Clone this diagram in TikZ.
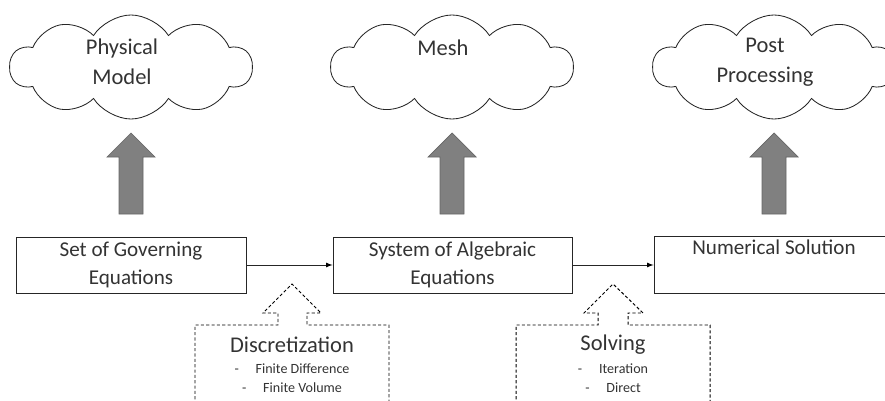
\documentclass[tikz,border=0pt]{standalone}
\usepackage{fontspec}
\setmainfont{Carlito}
\usetikzlibrary{arrows,positioning,shapes}

\begin{document}
\begin{tikzpicture}[x=0.025cm,y=-0.025cm,
            eqbox/.style={draw=black!85,line width=.6pt,minimum height=1.4cm,inner sep=2pt,align=center,font=\fontsize{15}{20}\selectfont,text=black!80},
            bubble/.style={cloud,cloud puffs=10,cloud puff arc=115,cloud ignores aspect,draw=black!85,line width=.6pt,minimum width=6.05cm,minimum height=2.6cm},
            bubblelab/.style={align=center,font=\fontsize{16}{21}\selectfont,text=black!80},
            blockarrow/.style={fill=black!50,draw=black!60,line width=.5pt},
            callout/.style={draw=black,dash pattern=on 2.2pt off 1.6pt,line width=.7pt},
            calltitle/.style={font=\fontsize{16}{20}\selectfont,text=black!80},
            calllist/.style={align=center,font=\fontsize{10}{13.5}\selectfont,text=black!80},
            conn/.style={draw=black!85,->,>=latex,line width=.6pt}
          ]
          \useasboundingbox (0,0) rectangle (885,400);

          %equation boxes
          \node[eqbox,minimum width=5.75cm] (gov) at (131,265) {Set of Governing\\Equations};
          \node[eqbox,minimum width=5.975cm] (alg) at (452.5,265) {System of Algebraic\\Equations};
          \node[eqbox,minimum width=6cm] (num) at (774,265) {Numerical Solution\\\strut};
          \path[conn]
          (gov) edge (alg)
          (alg) edge (num)
          ;

          %clouds
          \node[bubble] (phys) at (131,67) {};
          \node[bubblelab] (physlab) at (122,62) {Physical\\Model};
          \node[bubble] (mesh) at (452,67) {};
          \node[bubblelab] (meshlab) at (443,48) {Mesh};
          \node[bubble] (post) at (774,67) {};
          \node[bubblelab] (postlab) at (765,62) {Post\\Processing};

          %block arrows
          \foreach \x in {131,452,774}
            \draw[blockarrow] (\x-12,214) -- (\x-12,157) -- (\x-24,157) -- (\x,133)
              -- (\x+24,157) -- (\x+12,157) -- (\x+12,214) -- cycle;

          %callouts
          \draw[callout] (195,410) -- (195,325) -- (278,325) -- (278,313) -- (263,313) -- (292,284)
            -- (321,313) -- (307,313) -- (307,325) -- (389,325) -- (389,410);
          \node[calltitle] (disc) at (292,345) {Discretization};
          \node[calllist] (disclist) at (292,378) {-\hspace{12pt}Finite Difference\\-\hspace{12pt}Finite Volume};

          \draw[callout] (516,410) -- (516,325) -- (598,325) -- (598,313) -- (584,313) -- (613,284)
            -- (643,313) -- (628,313) -- (628,325) -- (710,325) -- (710,410);
          \node[calltitle] (solv) at (613,345) {Solving};
          \node[calllist] (solvlist) at (613,378) {-\hspace{12pt}Iteration\\-\hspace{12pt}Direct};
      \end{tikzpicture}
\end{document}
